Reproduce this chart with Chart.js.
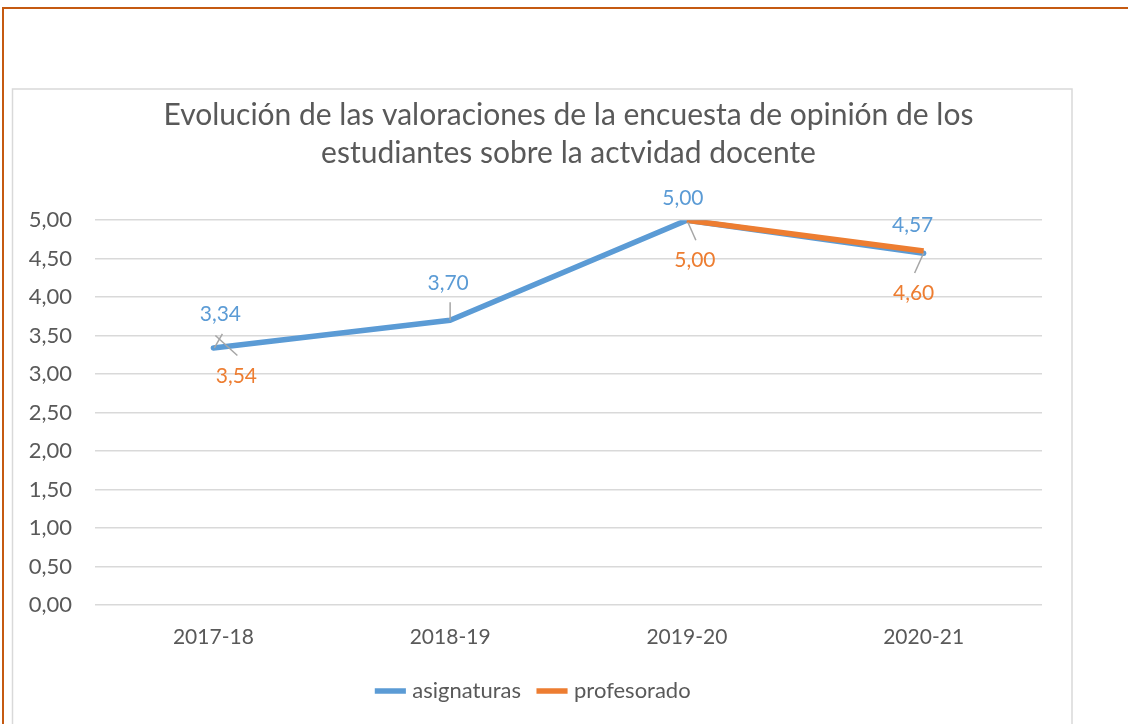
<!DOCTYPE html>
<html>
<head>
<meta charset="utf-8">
<script src="https://cdn.jsdelivr.net/npm/chart.js@4.4.1/dist/chart.umd.min.js"></script>
<style>
  html, body { margin: 0; padding: 0; background: #fff; }
  #wrap { width: 1128px; height: 724px; position: relative; }
</style>
</head>
<body>
<div id="wrap"><canvas id="valoraciones"></canvas></div>
<script>
const cursos = ["2017-18", "2018-19", "2019-20", "2020-21"];
const asignaturas = [3.34, 3.70, 5.00, 4.57];
const profesorado = [3.54, null, 5.00, 4.60];
const ticksY = [0, 0.5, 1, 1.5, 2, 2.5, 3, 3.5, 4, 4.5, 5];

const AZUL = "#5B9BD5";
const NARANJA = "#ED7D31";
const GRIS = "#595959";

// desplazamiento de cada etiqueta respecto a su punto (como en Excel, movidas a mano)
const etiquetas = [
    [
        { dx: 7, dy: -34, guia: [1, 0, 9, -14] },
        { dx: -2, dy: -37, guia: [0, -18, 0, 0] },
        { dx: -4, dy: -22 },
        { dx: -11, dy: -28 },
    ],
    [
        { dx: 23, dy: 44, guia: [2, 3, 24, 23] },
        null,
        { dx: 8, dy: 40, guia: [1, 2, 9, 20] },
        { dx: -10, dy: 42, guia: [0, 2, -9, 22] },
    ],
];

const fmt = (v) => v.toFixed(2).replace(".", ",");

const marco = {
    id: "marco",
    beforeDraw(chart) {
        const c = chart.ctx;
        c.save();
        c.fillStyle = "#fff";
        c.fillRect(0, 0, chart.width, chart.height);
        c.strokeStyle = "#C55A11";
        c.lineWidth = 2;
        c.beginPath();
        c.moveTo(3, chart.height);
        c.lineTo(3, 8);
        c.lineTo(chart.width, 8);
        c.stroke();
        c.strokeStyle = "#D9D9D9";
        c.lineWidth = 1.5;
        c.beginPath();
        c.moveTo(12.5, chart.height);
        c.lineTo(12.5, 89);
        c.lineTo(1072, 89);
        c.lineTo(1072, chart.height);
        c.stroke();
        c.restore();
    },
};

const rotulos = {
    id: "rotulos",
    afterDatasetsDraw(chart) {
        const c = chart.ctx;
        c.save();
        c.font = "21px Lato";
        c.textAlign = "center";
        c.textBaseline = "middle";
        chart.data.datasets.forEach((ds, i) => {
            const meta = chart.getDatasetMeta(i);
            meta.data.forEach((pt, j) => {
                const cfg = etiquetas[i][j];
                const v = ds.data[j];
                if (!cfg || v === null) return;
                const px = pt.x;
                const py = chart.scales.y.getPixelForValue(v);
                if (cfg.guia) {
                    const g = cfg.guia;
                    c.strokeStyle = "#A6A6A6";
                    c.lineWidth = 1.5;
                    c.beginPath();
                    c.moveTo(px + g[0], py + g[1]);
                    c.lineTo(px + g[2], py + g[3]);
                    c.stroke();
                }
                c.fillStyle = ds.borderColor;
                c.fillText(fmt(v), px + cfg.dx, py + cfg.dy);
            });
        });
        c.restore();
    },
};

new Chart(document.getElementById("valoraciones"), {
    type: "line",
    data: {
        labels: cursos,
        datasets: [
            {
                label: "asignaturas",
                data: asignaturas,
                borderColor: AZUL,
                backgroundColor: AZUL,
                borderWidth: 5.5,
                borderCapStyle: "round",
                borderJoinStyle: "round",
                pointRadius: 0,
                tension: 0,
                order: 1,
            },
            {
                label: "profesorado",
                data: profesorado,
                borderColor: NARANJA,
                backgroundColor: NARANJA,
                borderWidth: 5.5,
                borderCapStyle: "butt",
                borderJoinStyle: "round",
                pointRadius: 0,
                tension: 0,
                order: 0,
            },
        ],
    },
    options: {
        responsive: true,
        maintainAspectRatio: false,
        animation: false,
        layout: {
            padding: { top: 92, left: 28, right: 86, bottom: 12 },
        },
        plugins: {
            title: {
                display: true,
                fullSize: false,
                text: [
                    "Evolución de las valoraciones de la encuesta de opinión de los",
                    "estudiantes sobre la actvidad docente",
                ],
                color: GRIS,
                font: { family: "Lato", size: 30, weight: "normal", lineHeight: 1.27 },
                padding: { top: 4, bottom: 48 },
            },
            legend: {
                position: "bottom",
                labels: {
                    usePointStyle: true,
                    pointStyle: "line",
                    boxWidth: 55,
                    color: GRIS,
                    font: { family: "Lato", size: 22 },
                    padding: 20,
                    sort: (a, b) => a.datasetIndex - b.datasetIndex,
                },
            },
            tooltip: { enabled: false },
        },
        scales: {
            x: {
                offset: true,
                grid: { display: false, drawTicks: false },
                border: { display: false },
                ticks: { color: GRIS, font: { family: "Lato", size: 21 }, padding: 20 },
                afterFit(scale) { scale.height = 55; },
            },
            y: {
                min: 0,
                max: 5,
                afterBuildTicks(scale) {
                    scale.ticks = ticksY.map((v) => ({ value: v }));
                },
                grid: { color: "#D9D9D9", lineWidth: 1.5, drawTicks: false },
                border: { display: false },
                ticks: {
                    color: GRIS,
                    font: { family: "Lato", size: 22 },
                    padding: 23,
                    callback: (v) => fmt(v),
                },
                afterFit(scale) { scale.width = 67; },
            },
        },
    },
    plugins: [marco, rotulos],
});
</script>
</body>
</html>
